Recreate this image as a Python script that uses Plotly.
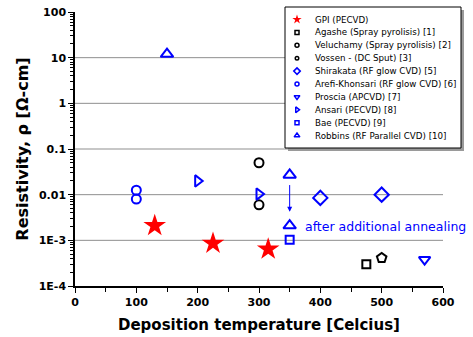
import math
import plotly.graph_objects as go

# ---------------- data ----------------
gpi_x = [130, 225, 315]
gpi_y = [2.1e-3, 8.6e-4, 6.4e-4]
agashe_x = [475]
agashe_y = [3.0e-4]
veluchamy_x = [300, 300]
veluchamy_y = [0.05, 0.006]
vossen_x = [500]
vossen_y = [4.1e-4]
shirakata_x = [400, 500]
shirakata_y = [0.0085, 0.0100]
arefi_x = [100, 100]
arefi_y = [0.0125, 0.0080]
proscia_x = [570]
proscia_y = [3.8e-4]
ansari_x = [200, 300]
ansari_y = [0.020, 0.0103]
bae_x = [350]
bae_y = [1.03e-3]
robbins_x = [150, 350, 350]
robbins_y = [12.0, 0.027, 0.0021]

arrow_x = 350
arrow_from_y = 0.0175
arrow_to_y = 0.0042
note_text = "after additional annealing"
note_x = 372
note_y = 2.0e-3

legend_labels = [
    "GPI (PECVD)",
    "Agashe (Spray pyrolisis) [1]",
    "Veluchamy (Spray pyrolisis) [2]",
    "Vossen - (DC Sput) [3]",
    "Shirakata (RF glow CVD) [5]",
    "Arefi-Khonsari (RF glow CVD) [6]",
    "Proscia (APCVD) [7]",
    "Ansari (PECVD) [8]",
    "Bae (PECVD) [9]",
    "Robbins (RF Parallel CVD) [10]",
]

x_ticks = [0, 100, 200, 300, 400, 500, 600]
y_tickvals = [1e-4, 1e-3, 1e-2, 1e-1, 1, 10, 100]
y_ticktext = ["1E-4", "1E-3", "0.01", "0.1", "1", "10", "100"]
y_gridvals = [1e-3, 1e-2, 1e-1, 1, 10]

# ---------------- styles ----------------
RED = "#FF0000"
BLUE = "#0000FF"
BLACK = "#000000"

series = [
    (gpi_x, gpi_y, "star", RED, 17, 0),
    (agashe_x, agashe_y, "square-open", BLACK, 8, 2),
    (veluchamy_x, veluchamy_y, "circle-open", BLACK, 9, 2),
    (vossen_x, vossen_y, "pentagon-open", BLACK, 10, 2),
    (shirakata_x, shirakata_y, "diamond-open", BLUE, 11, 2),
    (arefi_x, arefi_y, "circle-open", BLUE, 9, 2),
    (proscia_x, proscia_y, "triangle-down-open", BLUE, 10, 2),
    (ansari_x, ansari_y, "triangle-right-open", BLUE, 10, 2),
    (bae_x, bae_y, "square-open", BLUE, 8, 2),
    (robbins_x, robbins_y, "triangle-up-open", BLUE, 11, 2),
]
legend_sym = [
    ("star", RED, 7, 0),
    ("square-open", BLACK, 4, 1.5),
    ("circle-open", BLACK, 4, 1.5),
    ("circle-open", BLACK, 3.5, 1.5),
    ("diamond-open", BLUE, 5, 1.5),
    ("circle-open", BLUE, 4, 1.5),
    ("triangle-down-open", BLUE, 5, 1.5),
    ("triangle-right-open", BLUE, 5, 1.5),
    ("square-open", BLUE, 4, 1.5),
    ("triangle-up-open", BLUE, 5, 1.5),
]

W, H = 473, 337
ML, MR, MT, MB = 75, 30, 12, 51
PX0, PX1 = ML, W - MR
PY0, PY1 = MT, H - MB


def px_to_paper_x(px):
    return (px - PX0) / (PX1 - PX0)


def py_to_paper_y(py):
    return (PY1 - py) / (PY1 - PY0)


fig = go.Figure()

# horizontal grid lines (drawn as shapes so the legend box can cover them)
for gv in y_gridvals:
    fig.add_shape(type="line", xref="paper", yref="y", x0=0, x1=1, y0=gv, y1=gv,
                  line=dict(color="#8f8f8f", width=1), layer="below")

for (xs, ys, sym, col, size, lw), name in zip(series, legend_labels):
    fig.add_trace(go.Scatter(
        x=xs, y=ys, mode="markers", name=name, showlegend=False,
        marker=dict(symbol=sym, color=col, size=size,
                    line=dict(color=col, width=lw)),
        cliponaxis=False,
    ))

# manual legend in pixel coordinates (overlay axes)
LB_L, LB_T, LB_R, LB_B = 285, 7, 461, 148
row0, step = 19.5, 12.9
my = [row0 + i * step for i in range(len(legend_labels))]
for i, (sym, col, size, lw) in enumerate(legend_sym):
    fig.add_trace(go.Scatter(
        x=[297], y=[my[i]], xaxis="x2", yaxis="y2", mode="markers",
        showlegend=False, cliponaxis=False,
        marker=dict(symbol=sym, color=col, size=size,
                    line=dict(color=col, width=lw)),
    ))
    fig.add_annotation(x=313, y=my[i], xref="x2", yref="y2",
                       text=legend_labels[i], showarrow=False,
                       xanchor="left", yanchor="middle",
                       font=dict(family="DejaVu Sans", size=8.7, color="#000000"))

fig.add_shape(type="rect", xref="paper", yref="paper",
              x0=px_to_paper_x(LB_L + 3), y0=py_to_paper_y(LB_B + 3),
              x1=px_to_paper_x(LB_R + 3), y1=py_to_paper_y(LB_T + 3),
              fillcolor="#9a9a9a", line=dict(width=0), layer="below")
fig.add_shape(type="rect", xref="paper", yref="paper",
              x0=px_to_paper_x(LB_L), y0=py_to_paper_y(LB_B),
              x1=px_to_paper_x(LB_R), y1=py_to_paper_y(LB_T),
              fillcolor="white", line=dict(color="#000000", width=1), layer="below")

# arrow and note
fig.add_annotation(x=arrow_x, y=math.log10(arrow_to_y), ax=arrow_x,
                   ay=math.log10(arrow_from_y), xref="x", yref="y",
                   axref="x", ayref="y", text="", showarrow=True,
                   arrowhead=2, arrowsize=1, arrowwidth=1, arrowcolor=BLUE)
fig.add_annotation(x=note_x, y=math.log10(note_y), xref="x", yref="y",
                   text=note_text, showarrow=False, xanchor="left",
                   yanchor="middle",
                   font=dict(family="DejaVu Sans", size=12.5, color=BLUE))

tickfont = dict(family="DejaVu Sans", size=11, color="#000000", weight="bold")

minor_y = [k * 10 ** e for e in range(-4, 2) for k in range(2, 10)]

fig.update_layout(
    width=W, height=H,
    margin=dict(l=ML, r=MR, t=MT, b=MB, pad=0, autoexpand=False),
    paper_bgcolor="white", plot_bgcolor="rgba(0,0,0,0)",
    showlegend=False,
    xaxis=dict(range=[0, 600], tickvals=x_ticks, ticks="outside", ticklen=5,
               tickwidth=1, tickcolor="#000000", automargin=False,
               minor=dict(ticks="outside", ticklen=4, dtick=50, tickcolor="#000000"),
               showgrid=False, zeroline=False, showline=True,
               linecolor="#000000", linewidth=1.5, tickfont=tickfont,
               title=dict(text="Deposition temperature [Celcius]",
                          font=dict(family="DejaVu Sans", size=15, color="#000000",
                                    weight="bold"),
                          standoff=12)),
    yaxis=dict(type="log", range=[-4, 2], tickvals=y_tickvals, ticktext=y_ticktext,
               ticks="outside", ticklen=5, tickwidth=1, tickcolor="#000000",
               automargin=False,
               minor=dict(ticks="outside", ticklen=3, tickvals=minor_y,
                          tickcolor="#000000", showgrid=False),
               showgrid=False,
               zeroline=False, showline=True, linecolor="#000000", linewidth=1.5,
               tickfont=tickfont,
               title=dict(text="Resistivity, ρ [Ω-cm]",
                          font=dict(family="DejaVu Sans", size=16, color="#000000",
                                    weight="bold"),
                          standoff=6)),
    xaxis2=dict(overlaying="x", range=[PX0, PX1], visible=False, fixedrange=True,
                automargin=False),
    yaxis2=dict(overlaying="y", range=[PY1, PY0], visible=False, fixedrange=True,
                automargin=False),
)

fig.write_html("out.html")
